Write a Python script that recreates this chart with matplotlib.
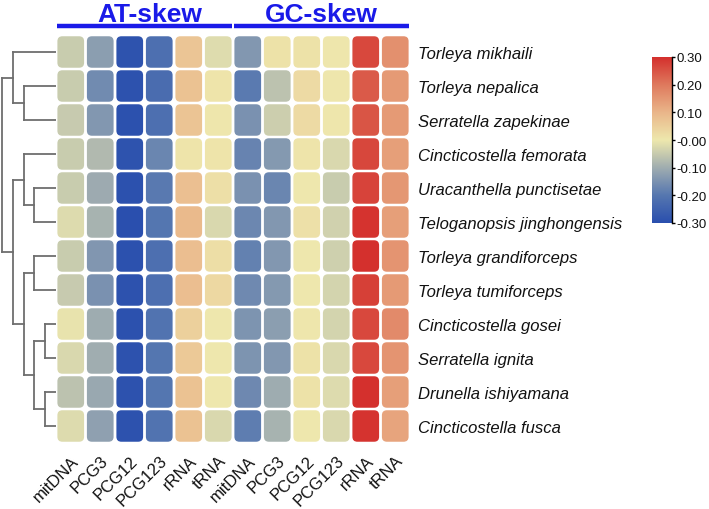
import matplotlib
matplotlib.use("Agg")
import matplotlib.pyplot as plt
from matplotlib.colors import LinearSegmentedColormap, Normalize
from matplotlib.patches import FancyBboxPatch
import numpy as np

plt.rcParams['font.family'] = ['Liberation Sans', 'DejaVu Sans']

species = ["Torleya mikhaili", "Torleya nepalica", "Serratella zapekinae",
           "Cincticostella femorata", "Uracanthella punctisetae",
           "Teloganopsis jinghongensis", "Torleya grandiforceps",
           "Torleya tumiforceps", "Cincticostella gosei", "Serratella ignita",
           "Drunella ishiyamana", "Cincticostella fusca"]
columns = ["mitDNA", "PCG3", "PCG12", "PCG123", "rRNA", "tRNA"]
groups = ["AT-skew", "GC-skew"]

at_skew = [
    [-0.049, -0.127, -0.289, -0.218, 0.070, -0.020],
    [-0.049, -0.164, -0.291, -0.227, 0.075, 0.008],
    [-0.051, -0.139, -0.295, -0.220, 0.072, 0.004],
    [-0.049, -0.079, -0.289, -0.173, 0.008, 0.008],
    [-0.049, -0.104, -0.293, -0.195, 0.080, 0.018],
    [-0.023, -0.090, -0.298, -0.202, 0.092, -0.028],
    [-0.049, -0.142, -0.293, -0.218, 0.084, 0.020],
    [-0.051, -0.151, -0.291, -0.220, 0.084, 0.032],
    [-0.008, -0.103, -0.295, -0.209, 0.048, 0.000],
    [-0.028, -0.100, -0.291, -0.202, 0.062, 0.000],
    [-0.064, -0.108, -0.291, -0.202, 0.076, 0.000],
    [-0.023, -0.123, -0.291, -0.209, 0.076, -0.026],
]
gc_skew = [
    [-0.139, 0.012, 0.012, 0.004, 0.265, 0.163],
    [-0.193, -0.064, 0.028, 0.004, 0.243, 0.147],
    [-0.151, -0.044, 0.028, 0.004, 0.250, 0.147],
    [-0.177, -0.136, 0.008, -0.028, 0.268, 0.137],
    [-0.151, -0.173, 0.000, -0.049, 0.272, 0.150],
    [-0.170, -0.139, 0.016, -0.038, 0.293, 0.137],
    [-0.182, -0.139, 0.000, -0.040, 0.300, 0.155],
    [-0.166, -0.136, 0.000, -0.033, 0.278, 0.147],
    [-0.146, -0.127, 0.004, -0.033, 0.265, 0.173],
    [-0.146, -0.139, 0.012, -0.028, 0.265, 0.155],
    [-0.168, -0.103, 0.012, -0.023, 0.298, 0.137],
    [-0.188, -0.090, 0.000, -0.028, 0.295, 0.130],
]

# dendrogram merges: (left node, right node, height); leaves 0..11, new clusters 12..
merges = [
    (1, 2, 3), (0, 12, 4), (4, 5, 2), (3, 14, 3), (6, 7, 2),
    (8, 9, 1), (10, 11, 1), (17, 18, 2), (16, 19, 3), (15, 20, 4),
    (13, 21, 5),
]

cbar_ticks = [0.3, 0.2, 0.1, 0.0, -0.1, -0.2, -0.3]
cbar_ticklabels = ["0.30", "0.20", "0.10", "-0.00", "-0.10", "-0.20", "-0.30"]

W, H = 709, 510
fig = plt.figure(figsize=(W / 100, H / 100), dpi=100)


def px(l, t, r, b):
    return [l / W, 1 - b / H, (r - l) / W, (b - t) / H]


cmap = LinearSegmentedColormap.from_list('skew', [
    (0.0, '#2a4fae'), (1 / 6, '#5677b0'), (2 / 6, '#a0adb0'),
    (3 / 6, '#eee8ad'), (4 / 6, '#eab68a'), (5 / 6, '#df7a5e'),
    (1.0, '#d4302d')])
norm = Normalize(-0.3, 0.3)

# heatmap
ax = fig.add_axes(px(56, 36, 410, 444))
data = np.hstack([np.array(at_skew), np.array(gc_skew)])
nrow, ncol = data.shape
ax.set_xlim(0, ncol)
ax.set_ylim(nrow, 0)
cw, ch = 0.905, 0.926
aspect = (354 / ncol) / (408 / nrow)
for i in range(nrow):
    for j in range(ncol):
        ax.add_patch(FancyBboxPatch(
            (j + (1 - cw) / 2, i + (1 - ch) / 2), cw, ch,
            boxstyle="round,pad=0,rounding_size=0.17",
            mutation_aspect=aspect, fc=cmap(norm(data[i, j])), ec='none'))
for s in ax.spines.values():
    s.set_visible(False)
ax.set_xticks(np.arange(ncol) + 0.5)
ax.set_xticklabels(columns * len(groups), rotation=45, ha='right', va='top',
                   rotation_mode='anchor', fontsize=12, color='#111111')
ax.tick_params(axis='x', length=0, pad=7)
ax.yaxis.tick_right()
ax.set_yticks(np.arange(nrow) + 0.5)
ax.set_yticklabels(species, fontstyle='italic', fontsize=12, color='#111111')
ax.tick_params(axis='y', length=0, pad=6)

blue = '#1a1ae8'
title_shift = [0.18, 0.0]
for g, name in enumerate(groups):
    x0, x1 = g * len(columns), (g + 1) * len(columns)
    ax.plot([x0 + 0.05, x1 - 0.05], [-0.26, -0.26], color=blue, lw=3.2,
            clip_on=False, solid_capstyle='butt')
    ax.text((x0 + x1) / 2 + title_shift[g], -0.42, name, ha='center',
            va='baseline', fontsize=19, fontweight='bold', color=blue)

# dendrogram
dax = fig.add_axes(px(0, 36, 56, 444))
dax.set_ylim(nrow, 0)
dax.set_xlim(5.185, 0)
dax.axis('off')
pos = {i: i + 0.5 for i in range(nrow)}
hgt = {i: 0.0 for i in range(nrow)}
lc = '#6e6e6e'
for k, (a, b, h) in enumerate(merges):
    dax.plot([hgt[a], h], [pos[a], pos[a]], color=lc, lw=1.3)
    dax.plot([hgt[b], h], [pos[b], pos[b]], color=lc, lw=1.3)
    dax.plot([h, h], [pos[a], pos[b]], color=lc, lw=1.3)
    pos[nrow + k] = (pos[a] + pos[b]) / 2
    hgt[nrow + k] = h

# colorbar
cax = fig.add_axes(px(652, 58, 672, 224))
grad = np.linspace(-0.3, 0.3, 256).reshape(-1, 1)
cax.imshow(grad, extent=[0, 1, -0.3, 0.3], origin='lower', aspect='auto',
           cmap=cmap, norm=norm)
for side in ['left', 'top', 'bottom']:
    cax.spines[side].set_visible(False)
cax.spines['right'].set_linewidth(1.0)
cax.set_xticks([])
cax.yaxis.tick_right()
cax.set_yticks(cbar_ticks)
cax.set_yticklabels(cbar_ticklabels, fontsize=9.5, color='#111111')
cax.tick_params(axis='y', length=2.5, width=1.0, pad=0.5)
cax.set_ylim(-0.3, 0.3)

fig.savefig('out.png', dpi=100)
